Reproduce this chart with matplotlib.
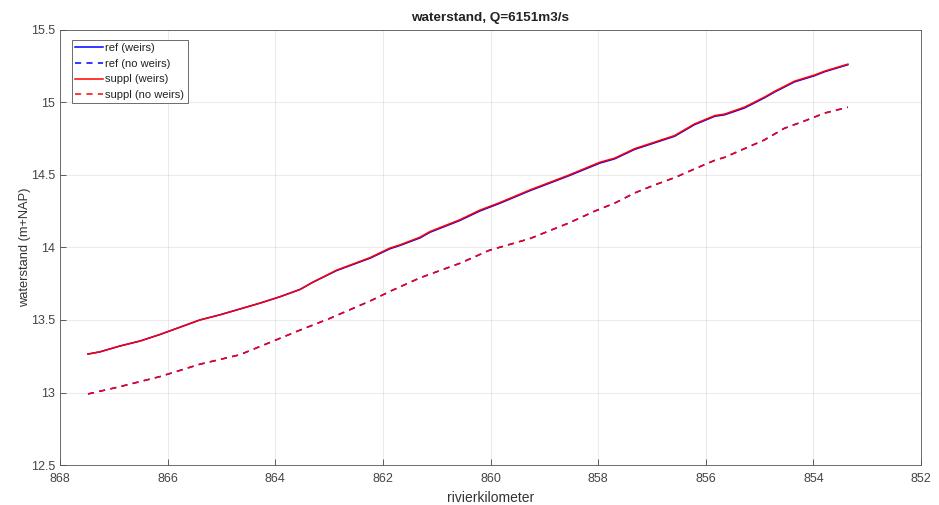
import numpy as np
import matplotlib
matplotlib.use("Agg")
import matplotlib.pyplot as plt
from matplotlib.ticker import FormatStrFormatter

# rivierkilometer / waterstand
km_weirs = [867.48, 867.26, 866.89, 866.51, 866.14, 865.77, 865.40, 865.03,
            864.66, 864.29, 863.91, 863.54, 863.30, 862.86, 862.24, 861.87,
            861.69, 861.31, 861.13, 860.57, 860.20, 859.83, 859.27, 858.53,
            857.97, 857.69, 857.32, 856.95, 856.58, 856.21, 855.83, 855.65,
            855.28, 854.91, 854.72, 854.35, 853.98, 853.79, 853.36]
ref_weirs = [13.265, 13.280, 13.320, 13.355, 13.400, 13.450, 13.500, 13.535,
             13.575, 13.615, 13.660, 13.710, 13.760, 13.840, 13.925, 13.990,
             14.012, 14.065, 14.103, 14.185, 14.250, 14.303, 14.390, 14.495,
             14.580, 14.610, 14.675, 14.720, 14.765, 14.845, 14.903, 14.913,
             14.960, 15.030, 15.070, 15.140, 15.182, 15.210, 15.258]
suppl_weirs = [13.265, 13.280, 13.320, 13.355, 13.400, 13.450, 13.500, 13.535,
               13.575, 13.615, 13.660, 13.710, 13.760, 13.843, 13.929, 13.995,
               14.016, 14.070, 14.108, 14.190, 14.256, 14.308, 14.395, 14.500,
               14.586, 14.615, 14.680, 14.725, 14.770, 14.850, 14.908, 14.918,
               14.966, 15.035, 15.075, 15.145, 15.187, 15.214, 15.262]

km_noweirs = [867.48, 866.89, 866.14, 865.40, 864.66, 864.00, 863.54, 862.99,
              862.24, 861.85, 861.31, 860.57, 860.02, 859.27, 858.53, 858.06,
              857.69, 857.32, 856.95, 856.58, 856.21, 855.83, 855.65, 855.28,
              854.91, 854.54, 854.17, 853.79, 853.36]
ref_noweirs = [12.990, 13.040, 13.110, 13.195, 13.260, 13.360, 13.430, 13.510,
               13.630, 13.700, 13.790, 13.890, 13.980, 14.060, 14.170, 14.250,
               14.305, 14.375, 14.430, 14.480, 14.540, 14.600, 14.620, 14.680,
               14.740, 14.820, 14.870, 14.925, 14.965]
suppl_noweirs = ref_noweirs

plt.rcParams['font.family'] = ['Liberation Sans', 'DejaVu Sans']

fig = plt.figure(figsize=(9.39, 5.05), dpi=100)
ax = fig.add_axes([0.0639, 0.079, 0.917, 0.8624])

ax.plot(km_weirs, ref_weirs, color='#0000ff', lw=1.1, label='ref (weirs)')
ax.plot(km_noweirs, ref_noweirs, color='#0000ff', lw=1.1, ls=(0, (4, 3.5)),
        label='ref (no weirs)')
ax.plot(km_weirs, suppl_weirs, color='#ff0000', lw=1.1, label='suppl (weirs)')
ax.plot(km_noweirs, suppl_noweirs, color='#ff0000', lw=1.1, ls=(0, (4, 3.5)),
        label='suppl (no weirs)')

ax.set_xlim(868, 852)
ax.set_ylim(12.5, 15.5)
ax.set_xticks(np.arange(868, 851, -2))
ax.set_yticks(np.arange(12.5, 15.6, 0.5))
ax.yaxis.set_major_formatter(FormatStrFormatter('%g'))
ax.grid(True, color='#262626', alpha=0.09, lw=0.8)
ax.tick_params(direction='in', length=4, labelsize=9, colors='#444444',
               width=0.6)
ax.tick_params(axis='x', pad=6)
for s in ax.spines.values():
    s.set_color('#555555')
    s.set_linewidth(0.6)

ax.set_title('waterstand, Q=6151m3/s', fontsize=9.7, fontweight='bold',
             color='#222222', pad=6)
ax.set_xlabel('rivierkilometer', fontsize=10, color='#333333', labelpad=4)
ax.set_ylabel('waterstand (m+NAP)', fontsize=9.3, color='#333333', labelpad=0)

leg = ax.legend(loc='upper left', bbox_to_anchor=(0.014, 0.976), fontsize=8,
                fancybox=False, framealpha=1, edgecolor='#555555',
                handlelength=2.5, borderpad=0.3, labelspacing=0.5,
                handletextpad=0.2, borderaxespad=0)
leg.get_frame().set_linewidth(0.6)
for t in leg.get_texts():
    t.set_color('#222222')

fig.savefig('out.png', dpi=100)
